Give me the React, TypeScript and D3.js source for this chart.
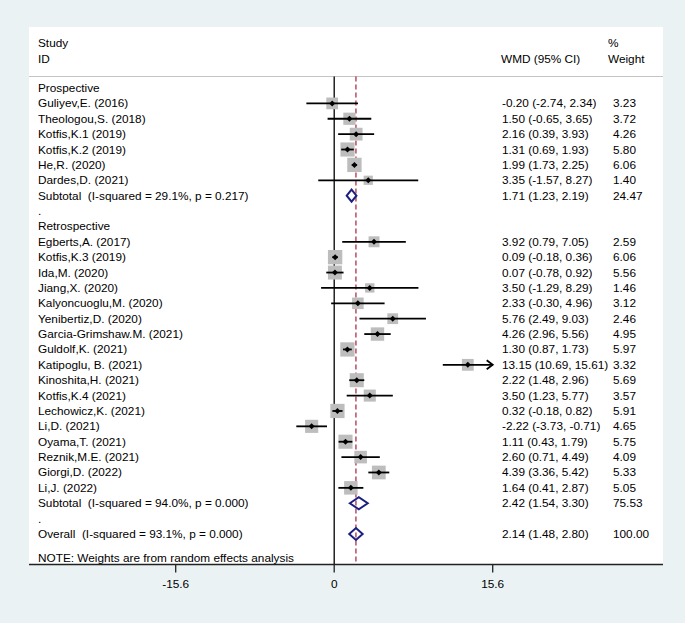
import React from "react";
import * as d3 from "d3";

// ---- Data ----
const prospStudies = ["Guliyev,E. (2016)", "Theologou,S. (2018)", "Kotfis,K.1 (2019)", "Kotfis,K.2 (2019)", "He,R. (2020)", "Dardes,D. (2021)"];
const prospEst = [-0.2, 1.5, 2.16, 1.31, 1.99, 3.35];
const prospLo = [-2.74, -0.65, 0.39, 0.69, 1.73, -1.57];
const prospHi = [2.34, 3.65, 3.93, 1.93, 2.25, 8.27];
const prospW = [3.23, 3.72, 4.26, 5.8, 6.06, 1.4];

const retroStudies = ["Egberts,A. (2017)", "Kotfis,K.3 (2019)", "Ida,M. (2020)", "Jiang,X. (2020)", "Kalyoncuoglu,M. (2020)", "Yenibertiz,D. (2020)", "Garcia-Grimshaw.M. (2021)", "Guldolf,K. (2021)", "Katipoglu, B. (2021)", "Kinoshita,H. (2021)", "Kotfis,K.4 (2021)", "Lechowicz,K. (2021)", "Li,D. (2021)", "Oyama,T. (2021)", "Reznik,M.E. (2021)", "Giorgi,D. (2022)", "Li,J. (2022)"];
const retroEst = [3.92, 0.09, 0.07, 3.5, 2.33, 5.76, 4.26, 1.3, 13.15, 2.22, 3.5, 0.32, -2.22, 1.11, 2.6, 4.39, 1.64];
const retroLo = [0.79, -0.18, -0.78, -1.29, -0.3, 2.49, 2.96, 0.87, 10.69, 1.48, 1.23, -0.18, -3.73, 0.43, 0.71, 3.36, 0.41];
const retroHi = [7.05, 0.36, 0.92, 8.29, 4.96, 9.03, 5.56, 1.73, 15.61, 2.96, 5.77, 0.82, -0.71, 1.79, 4.49, 5.42, 2.87];
const retroW = [2.59, 6.06, 5.56, 1.46, 3.12, 2.46, 4.95, 5.97, 3.32, 5.69, 3.57, 5.91, 4.65, 5.75, 4.09, 5.33, 5.05];

const pooledLabels = ["Subtotal  (I-squared = 29.1%, p = 0.217)", "Subtotal  (I-squared = 94.0%, p = 0.000)", "Overall  (I-squared = 93.1%, p = 0.000)"];
const pooledEst = [1.71, 2.42, 2.14];
const pooledLo = [1.23, 1.54, 1.48];
const pooledHi = [2.19, 3.3, 2.8];
const pooledW = [24.47, 75.53, 100.0];

const groupLabels = ["Prospective", "Retrospective"];
const tickValues = [-15.6, 0, 15.6];
const noteText = "NOTE: Weights are from random effects analysis";

type Row =
  | { kind: "head"; label: string }
  | { kind: "dot" }
  | { kind: "study"; label: string; est: number; lo: number; hi: number; w: number }
  | { kind: "pooled"; label: string; est: number; lo: number; hi: number; w: number };

const rows: Row[] = [];
rows.push({ kind: "head", label: groupLabels[0] });
prospStudies.forEach((s, i) => rows.push({ kind: "study", label: s, est: prospEst[i], lo: prospLo[i], hi: prospHi[i], w: prospW[i] }));
rows.push({ kind: "pooled", label: pooledLabels[0], est: pooledEst[0], lo: pooledLo[0], hi: pooledHi[0], w: pooledW[0] });
rows.push({ kind: "dot" });
rows.push({ kind: "head", label: groupLabels[1] });
retroStudies.forEach((s, i) => rows.push({ kind: "study", label: s, est: retroEst[i], lo: retroLo[i], hi: retroHi[i], w: retroW[i] }));
rows.push({ kind: "pooled", label: pooledLabels[1], est: pooledEst[1], lo: pooledLo[1], hi: pooledHi[1], w: pooledW[1] });
rows.push({ kind: "dot" });
rows.push({ kind: "pooled", label: pooledLabels[2], est: pooledEst[2], lo: pooledLo[2], hi: pooledHi[2], w: pooledW[2] });

const W = 685;
const H = 623;
const FONT = "'Liberation Sans', Arial, Helvetica, sans-serif";
const FS = 11.8;
const TXT = "#000";

const fmt = (v: number) => v.toFixed(2);

export default function App() {
  const panel = { x0: 29, x1: 663, y0: 27, yHead: 76.5, yAxis: 564.5 };
  const x = d3.scaleLinear().domain([-15.6, 15.6]).range([175.7, 492.7]);
  const y = d3.scaleLinear().domain([0, rows.length - 1]).range([88, 534]);
  const overall = pooledEst[2];
  const [dmin, dmax] = x.domain() as [number, number];

  const labelX = 38;
  const ciX = 502;
  const wX = 613;

  return (
    <svg width={W} height={H} style={{ position: "fixed", left: 0, top: 0, display: "block" }} fontFamily={FONT} fontSize={FS}>
      <rect x={0} y={0} width={W} height={H} fill="#eaf2f3" />
      <rect x={panel.x0} y={panel.y0} width={panel.x1 - panel.x0} height={panel.yAxis - panel.y0} fill="#ffffff" />
      {/* header */}
      <text x={labelX} y={43} dominantBaseline="central" fill={TXT}>Study</text>
      <text x={labelX} y={58.5} dominantBaseline="central" fill={TXT}>ID</text>
      <text x={ciX - 1} y={58.5} dominantBaseline="central" fill={TXT}>WMD (95% CI)</text>
      <text x={608} y={42.5} dominantBaseline="central" fill={TXT}>%</text>
      <text x={608} y={58.5} dominantBaseline="central" fill={TXT}>Weight</text>
      <line x1={panel.x0} x2={panel.x1} y1={panel.yHead} y2={panel.yHead} stroke="#c4c4c4" strokeWidth={1.2} />

      {/* zero line */}
      <line x1={x(0)} x2={x(0)} y1={panel.yHead} y2={panel.yAxis} stroke="#000" strokeWidth={1.3} />
      {/* overall dashed line */}
      <line x1={x(overall)} x2={x(overall)} y1={panel.yHead} y2={panel.yAxis} stroke="#a3243b" strokeWidth={1.2} strokeDasharray="5,3" />

      {rows.map((r, i) => {
        const yy = y(i);
        if (r.kind === "head") {
          return <text key={i} x={labelX} y={yy} dominantBaseline="central" fill={TXT}>{r.label}</text>;
        }
        if (r.kind === "dot") {
          return <text key={i} x={labelX} y={yy} dominantBaseline="central" fill={TXT}>.</text>;
        }
        const right = (
          <g>
            <text x={ciX} y={yy} dominantBaseline="central" fill={TXT}>{`${fmt(r.est)} (${fmt(r.lo)}, ${fmt(r.hi)})`}</text>
            <text x={wX} y={yy} dominantBaseline="central" fill={TXT}>{fmt(r.w)}</text>
          </g>
        );
        if (r.kind === "pooled") {
          const hh = 6;
          const path = `M${x(r.lo)},${yy} L${x(r.est)},${yy - hh} L${x(r.hi)},${yy} L${x(r.est)},${yy + hh} Z`;
          return (
            <g key={i}>
              <text x={labelX} y={yy} dominantBaseline="central" fill={TXT} style={{ whiteSpace: "pre" }}>{r.label}</text>
              <path d={path} fill="none" stroke="#1a1f80" strokeWidth={2} />
              {right}
            </g>
          );
        }
        const side = 4.5 + 4 * Math.sqrt(r.w);
        const clippedHi = r.hi > dmax;
        const x1 = x(Math.max(r.lo, dmin));
        const x2 = x(Math.min(r.hi, dmax));
        const cx = x(r.est);
        const m = 3;
        return (
          <g key={i}>
            <text x={labelX} y={yy} dominantBaseline="central" fill={TXT}>{r.label}</text>
            <rect x={cx - side / 2} y={yy - side / 2} width={side} height={side} fill="#bdbdbd" />
            <line x1={x1} x2={x2} y1={yy} y2={yy} stroke="#000" strokeWidth={1.8} />
            {clippedHi && (
              <path d={`M${x2 - 6},${yy - 4.5} L${x2},${yy} L${x2 - 6},${yy + 4.5}`} fill="none" stroke="#000" strokeWidth={1.8} />
            )}
            <path d={`M${cx - m},${yy} L${cx},${yy - m} L${cx + m},${yy} L${cx},${yy + m} Z`} fill="#000" />
            {right}
          </g>
        );
      })}

      <text x={labelX} y={557.5} dominantBaseline="central" fill={TXT}>{noteText}</text>

      {/* axis */}
      <line x1={panel.x0} x2={panel.x1} y1={panel.yAxis} y2={panel.yAxis} stroke="#222" strokeWidth={1.4} />
      {tickValues.map((t) => (
        <g key={t}>
          <line x1={x(t)} x2={x(t)} y1={panel.yAxis} y2={panel.yAxis + 8} stroke="#222" strokeWidth={1.3} />
          <text x={x(t)} y={584} textAnchor="middle" dominantBaseline="central" fill={TXT}>{t === 0 ? "0" : String(t)}</text>
        </g>
      ))}
    </svg>
  );
}
